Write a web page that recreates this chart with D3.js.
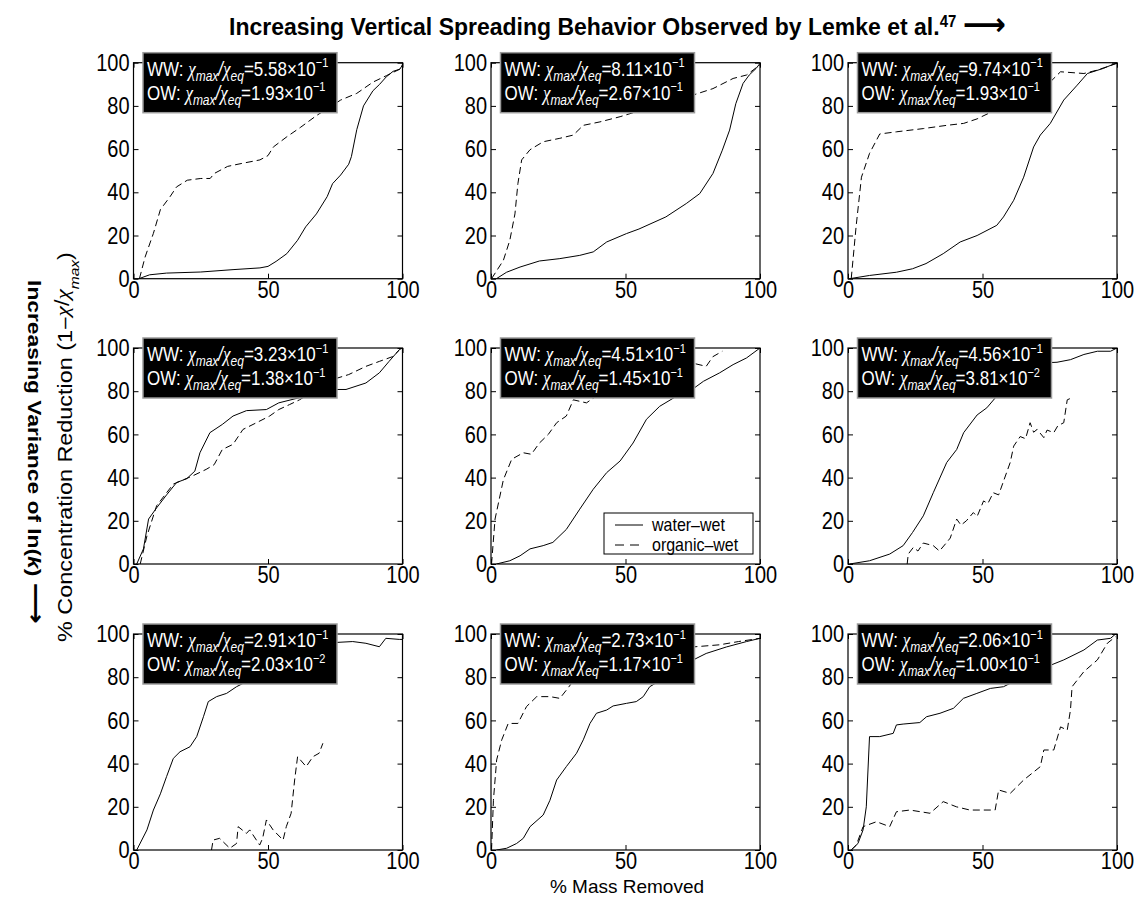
<!DOCTYPE html>
<meta charset="utf-8">
<style>
body { margin: 0; background: #fff; }
text { font-family: "Liberation Sans", Arial, Helvetica, sans-serif; fill: #000; }
.frame { fill: none; stroke: #000; stroke-width: 1.2px; }
.ww { fill: none; stroke: #000; stroke-width: 1px; }
.ow { fill: none; stroke: #000; stroke-width: 1px; stroke-dasharray: 7,4; }
.axis path { display: none; }
.axis line { stroke: #000; stroke-width: 1px; }
.axis text { font-size: 20px; font-family: "Liberation Sans", Arial, sans-serif; }
.chi { font-family: "Liberation Serif", "Times New Roman", serif; font-style: italic; }
</style>
<body>
<script src="https://d3js.org/d3.v7.min.js"></script>
<script>

// tick values
var xTicks = [0, 50, 100];
var yTicks = [0, 20, 40, 60, 80, 100];

// ratio labels, one per panel (row by row)
var wwMant = ["5.58", "8.11", "9.74", "3.23", "4.51", "4.56", "2.91", "2.73", "2.06"];
var wwExp  = ["1", "1", "1", "1", "1", "1", "1", "1", "1"];
var owMant = ["1.93", "2.67", "1.93", "1.38", "1.45", "3.81", "2.03", "1.17", "1.00"];
var owExp  = ["1", "1", "1", "1", "1", "2", "2", "1", "1"];

// water-wet curves [% mass removed, % concentration reduction]
var ww = [
  [[2,0],[6,1.8],[12.3,2.6],[25,3.1],[37,4.2],[47,5],[50,5.7],[53,8],[57,11.6],[61,17.8],[64,24],[68,30],[72,38],[74,44],[77,48],[80,53],[81,56.5],[83,69],[85.5,80],[89,87],[91.5,90],[94,93.5],[96.5,96],[99,97],[100,99]],
  [[2,0],[5.8,3],[10.8,5.4],[18,8.2],[25.6,9.3],[33,10.8],[38,12.4],[43,17],[50.4,20.9],[55,23],[65,28.6],[72.6,34.8],[77.6,39.4],[82.5,48.7],[86,59.5],[88.7,68.8],[91,81],[93.7,90.4],[96,94.3],[98.6,97.4],[100,99.7]],
  [[0.6,0],[8,1.5],[18,3],[24,4.6],[29,7],[35.4,11.6],[41.7,17],[48,20],[55.3,24.7],[57.8,28.6],[61.6,36.3],[65.3,47],[69,61],[71.5,66.5],[75.2,71.9],[80.2,82.7],[85.2,89.6],[89,95],[95,97.4],[100,100]],
  [[1.2,0],[3.7,7],[5.6,20.8],[8.6,26],[12.3,32],[16,37.7],[19.8,39.5],[22.8,43],[24.7,51.5],[28.4,60.8],[33,64.6],[37,68.5],[42,71],[49.4,71.5],[54,74.6],[61.7,77],[68,79],[74,80.8],[79,80.8],[86.4,83.8],[91.4,88.5],[95,93.8],[98.8,99.2],[100,100]],
  [[2,0],[7,1.5],[10.8,3.8],[14.5,7],[19.4,8.5],[23,10],[28,16],[33,25.4],[38,34.6],[43,42.3],[48,47.7],[52.8,56],[57.8,67],[62.7,73],[69,77.7],[73.9,80],[79,84.6],[85,88.5],[90,92.3],[95,95.4],[100,100]],
  [[0.6,0],[8,1.5],[15.5,4.6],[20.5,8.5],[24,14.6],[28,22.3],[31.7,33],[36.7,47],[40.4,53],[43,60.8],[48,69],[51.6,72.3],[55.3,77.7],[60.3,87],[65.3,91.5],[70.4,93],[77.7,93.4],[82.7,94.6],[87.7,97],[92.7,98.5],[97.6,98.5],[100,100]],
  [[1.2,0],[5,9.3],[7.4,18.5],[10,26],[12.3,34],[14.8,42.4],[17.3,45.5],[21,47.8],[23.5,52.5],[26,61.7],[27.8,68.7],[30.9,71],[34.6,72.5],[38.3,75.6],[43.2,78.7],[49.4,84.9],[56.8,89.5],[64,93.4],[74,96],[81.5,96.5],[86.4,95.7],[91.4,94.1],[93.8,98],[98.8,97.5],[100,97.5]],
  [[2,0],[5.8,0.8],[9.5,3],[12,5.4],[14.5,10.8],[19.4,16.2],[21.9,23],[24.4,32.4],[28,38.6],[31.8,44.8],[34.3,51],[36.8,58.6],[39.2,63.3],[43,64.8],[45.4,66.7],[50.4,67.9],[54,68.7],[56.6,71],[59,75.6],[65.2,80.2],[72.6,86.4],[80,91],[87.5,94],[95,96.5],[100,98]],
  [[1.2,0],[3.7,3],[5.6,9.3],[6.8,20],[8,52.5],[11.8,52.5],[16.8,54],[18,57.9],[20.5,58.3],[26.7,59],[29.2,61.7],[34.2,63.3],[39.2,65.6],[42.9,70.2],[47.9,72.5],[52.9,74.8],[57.8,75.6],[62.8,78.7],[67.8,81.8],[74,84.9],[80.2,88],[87.7,92.6],[92.7,97.2],[97.6,98],[99.5,100]]
];

// organic-wet curves
var ow = [
  [[2.2,0],[4.3,10],[7.4,21],[10,32],[13.6,38],[16,42.5],[20,45.6],[25,46.4],[28.5,46.4],[30,48.7],[35,52],[40,53.3],[47,55],[50,57],[52,61],[57,65.7],[62,70],[68,75.5],[77,82.7],[83,85.8],[89,91],[94,94],[99,97],[100,99]],
  [[0.2,0],[4.6,8.5],[7,17.8],[8.9,30],[10,44],[11.4,55],[14.5,59.7],[19.4,63.4],[25.6,65],[30.6,66.5],[34.3,71],[40.5,72.6],[48,75],[54,77.3],[62.7,81],[72.6,84],[82.5,88],[90,92.7],[95,94.3],[100,99]],
  [[1.2,0],[3,24],[5,47],[8,58],[11.8,67],[18,68],[28,69.5],[36.7,71],[43,71.9],[48,74],[53,77],[63,83.5],[74,89.6],[79,95.8],[87.7,95],[92.7,96.6],[100,99.7]],
  [[2.5,0],[5,13],[8.6,27],[14.8,37],[22,40.8],[27,43.8],[30,46],[33,53],[37,55.4],[40.7,62.3],[45.7,65.4],[50.6,68.5],[54,71.5],[58,73.8],[61.7,76],[68,80.8],[74,85.4],[80,87.7],[86.4,91.5],[91.4,93.8],[96.3,96],[98.8,99]],
  [[0.2,0],[1.5,20.8],[4.6,39],[7.7,48.5],[12,51.5],[15,50.8],[18,56],[21.3,60],[24.4,65.4],[28,68.5],[30.6,76],[35.5,74.6],[40.5,79],[45.4,82.3],[52.8,86],[60,89],[67.7,90.8],[75,93],[80,91.5],[82.5,96],[86,98.5]],
  [[22,0],[22.4,4.6],[24.3,7.7],[26,6],[28,9.7],[31.7,8.5],[34,6],[36.7,10],[38,12],[40.4,20.8],[42,18],[44,20],[46.6,23.8],[48,22],[50.4,29.2],[52,28],[54,33],[56,32],[58,39],[60.3,47],[61.6,54.6],[64,59],[66,58],[67.7,65.4],[69,61],[70.3,62.3],[72.8,58.5],[74,62],[76.5,60.8],[78,64],[80.2,65.4],[81.5,76],[83.3,77]],
  [[29,0],[29.6,4.6],[32,5.4],[35.8,0.8],[38.3,3],[38.9,10.8],[42,7.7],[43.2,9.3],[46.9,2.3],[48,5.4],[49.4,13.9],[51.9,9.3],[55.6,4.6],[56.8,10.8],[58.6,17],[59.9,32.4],[61,43.2],[64.2,38.6],[66.7,43.2],[69,44.8],[70.4,49.4]],
  [[0.2,0],[0.9,23],[2.1,41.7],[4,51],[6.4,58.6],[10,58.6],[13.2,66.4],[17,71],[22,71],[25.6,70.2],[28,74],[31.8,80.2],[38,84.9],[45.4,88],[52.8,89.5],[60.3,91],[67.7,91.8],[75,94],[85,95],[92,96.5],[100,98]],
  [[1.2,0],[3.1,2.3],[5.6,10.8],[10.6,13.1],[15.5,10.8],[18,17.7],[23,18.5],[30.5,17],[35.4,22.4],[40.3,20],[45.3,18.5],[50.4,18.5],[54.7,18.5],[56,27.8],[60.3,26.2],[65.3,32.4],[71.5,38.6],[72.8,46.3],[76.5,46.3],[79,57],[81.5,55.5],[82.7,64.8],[83.3,75.6],[87.7,82.6],[92.7,88],[96.4,95.7],[99.5,98.8]]
];

// layout
var colX = [133.5, 491, 848],
    rowY = [62.7, 348, 634],
    pw = 269, ph = 216,
    SY = 1.2; // the figure is a bit stretched vertically

var svg = d3.select("body").append("svg")
    .attr("width", 1137)
    .attr("height", 898);

var x = d3.scaleLinear().domain([0, 100]).range([0, pw]);
var y = d3.scaleLinear().domain([0, 100]).range([ph, 0]);

var line = d3.line()
    .x(function(d) { return x(d[0]); })
    .y(function(d) { return y(d[1]); });

svg.append("defs").append("clipPath").attr("id", "clip")
  .append("rect").attr("width", pw).attr("height", ph);

function ratioLine(g, label, mant, exp, tx, ty) {
  var t = g.append("text")
      .attr("transform", "translate(" + tx + "," + ty + ") scale(1," + SY + ")")
      .style("font-size", "17px")
      .style("fill", "#fff");
  t.append("tspan").text(label + ": ");
  t.append("tspan").attr("class", "chi").style("fill", "#fff").text("χ");
  t.append("tspan").style("font-size", "12px").style("font-style", "italic").attr("dy", 4).text("max");
  t.append("tspan").attr("dy", -4).style("font-style", "italic").text("/");
  t.append("tspan").attr("class", "chi").style("fill", "#fff").text("χ");
  t.append("tspan").style("font-size", "12px").style("font-style", "italic").attr("dy", 4).text("eq");
  t.append("tspan").attr("dy", -4).text("=" + mant + "×10");
  t.append("tspan").style("font-size", "11px").attr("dy", -7).text("−" + exp);
}

for (var i = 0; i < 9; i++) {
  var r = Math.floor(i / 3), c = i % 3;
  var g = svg.append("g")
      .attr("transform", "translate(" + colX[c] + "," + rowY[r] + ")");

  var plot = g.append("g").attr("clip-path", "url(#clip)");
  plot.append("path").datum(ww[i]).attr("class", "ww").attr("d", line);
  plot.append("path").datum(ow[i]).attr("class", "ow").attr("d", line);

  // axes with inward ticks on all four sides
  var ax = g.append("g").attr("class", "axis")
      .call(d3.axisLeft(y).tickValues(yTicks).tickSizeInner(-5).tickSizeOuter(0).tickPadding(4));
  ax.selectAll("text").attr("transform", "scale(1," + SY + ")");

  var bx = g.append("g").attr("class", "axis")
      .attr("transform", "translate(0," + ph + ")")
      .call(d3.axisBottom(x).tickValues(xTicks).tickSizeInner(-5).tickSizeOuter(0).tickPadding(2));
  bx.selectAll("text").attr("transform", "scale(1," + SY + ")");

  g.append("g").attr("class", "axis")
      .attr("transform", "translate(" + pw + ",0)")
      .call(d3.axisRight(y).tickValues(yTicks).tickSizeInner(-5).tickSizeOuter(0).tickFormat(""));
  g.append("g").attr("class", "axis")
      .call(d3.axisTop(x).tickValues(xTicks).tickSizeInner(-5).tickSizeOuter(0).tickFormat(""));

  g.append("rect").attr("class", "frame").attr("width", pw).attr("height", ph);

  // annotation box
  var bxX = 9.5, bxY = -10;
  g.append("rect")
      .attr("x", bxX).attr("y", bxY)
      .attr("width", 194).attr("height", 60)
      .attr("fill", "#000")
      .attr("stroke", "#9a9a9a").attr("stroke-width", 1.5);
  ratioLine(g, "WW", wwMant[i], wwExp[i], bxX + 4, bxY + 23);
  ratioLine(g, "OW", owMant[i], owExp[i], bxX + 4, bxY + 47);

  // legend in centre panel
  if (i === 4) {
    var lg = g.append("g").attr("transform", "translate(" + (pw - 7 - 149) + "," + (ph - 10 - 41) + ")");
    lg.append("rect").attr("width", 149).attr("height", 41)
        .attr("fill", "#fff").attr("stroke", "#000").attr("stroke-width", 1);
    lg.append("line").attr("class", "ww").attr("x1", 11).attr("x2", 39).attr("y1", 12).attr("y2", 12);
    lg.append("line").attr("class", "ow").attr("x1", 11).attr("x2", 39).attr("y1", 32).attr("y2", 32)
        .style("stroke-dasharray", "9,6");
    lg.append("text").attr("transform", "translate(48,18) scale(1," + SY + ")")
        .style("font-size", "16px").text("water–wet");
    lg.append("text").attr("transform", "translate(48,38) scale(1," + SY + ")")
        .style("font-size", "16px").text("organic–wet");
  }
}

// title
var title = svg.append("text")
    .attr("transform", "translate(229,35) scale(1,1.05)")
    .style("font-size", "23px").style("font-weight", "bold");
title.append("tspan").text("Increasing Vertical Spreading Behavior Observed by Lemke et al.");
title.append("tspan").style("font-size", "15px").attr("dy", -8).text("47");
title.append("tspan").attr("dy", 8).text(" ");
title.append("tspan").style("font-family", "DejaVu Sans").style("font-size", "30px").text("⟶");

// left row label
var side = svg.append("text")
    .attr("transform", "translate(28,452) rotate(90) scale(" + SY + ",1)")
    .attr("text-anchor", "middle")
    .style("font-size", "19px").style("font-weight", "bold");
side.append("tspan").text("Increasing Variance of ln(");
side.append("tspan").style("font-style", "italic").text("k");
side.append("tspan").text(") ");
side.append("tspan").style("font-family", "DejaVu Sans").style("font-size", "24px").text("⟶");

// y axis label
var yl = svg.append("text")
    .attr("transform", "translate(72,447) rotate(-90) scale(" + SY + ",1)")
    .attr("text-anchor", "middle")
    .style("font-size", "19.5px");
yl.append("tspan").text("% Concentration Reduction (1−");
yl.append("tspan").attr("class", "chi").attr("dy", -3).text("χ");
yl.append("tspan").text("/");
yl.append("tspan").attr("class", "chi").text("χ");
yl.append("tspan").style("font-size", "13px").attr("dy", 10).style("font-style", "italic").text("max");
yl.append("tspan").attr("dy", -7).text(")");

// x axis label
svg.append("text")
    .attr("x", 627).attr("y", 893)
    .attr("text-anchor", "middle")
    .style("font-size", "19px")
    .text("% Mass Removed");

</script>
</body>
